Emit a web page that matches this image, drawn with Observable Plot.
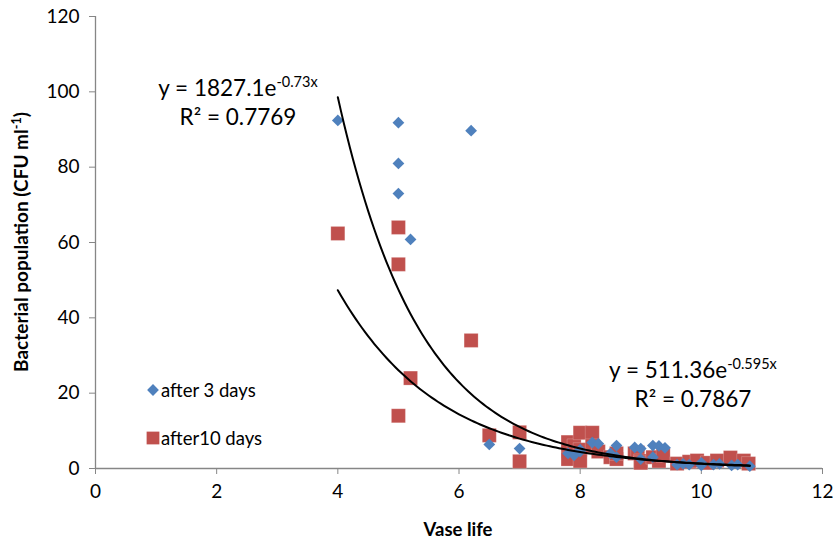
<!DOCTYPE html>
<html><head><meta charset="utf-8">
<script src="https://cdn.jsdelivr.net/npm/d3@7"></script>
<script src="https://cdn.jsdelivr.net/npm/@observablehq/plot@0.6"></script>
<style>body{margin:0;background:#fff} #chart svg{font-family:Lato,"Open Sans",sans-serif;}</style>
</head><body><div id="chart"></div>
<script>
// after 3 days
const day3X = [4, 5, 5, 5, 5.2, 6.2, 6.5, 7, 7.8, 7.9, 8, 8, 8.2, 8.3, 8.5, 8.6, 8.6, 8.9, 9, 9, 9.2, 9.2, 9.3, 9.4, 9.6, 9.7, 9.8, 10, 10, 10.2, 10.3, 10.5, 10.6, 10.8];
const day3Y = [92.4, 91.8, 81, 73, 60.8, 89.7, 6.4, 5.3, 4, 3.5, 5, 4.5, 6.9, 6.6, 4, 6.1, 3, 5.6, 5.3, 2.5, 6.1, 3, 6, 5.5, 1, 1.2, 1, 1.5, 0.8, 1, 1.2, 0.8, 1, 0.6];
// after 10 days
const day10X = [4, 5, 5, 5, 5.2, 6.2, 6.5, 7, 7, 7.8, 7.8, 7.8, 7.9, 8, 8, 8, 8.2, 8.2, 8.3, 8.5, 8.6, 8.6, 8.9, 8.95, 9, 9, 9.2, 9.3, 9.37, 9.6, 9.8, 9.93, 10.1, 10.26, 10.48, 10.7, 10.78];
const day10Y = [62.4, 64, 54.2, 14, 24, 34, 8.8, 9.6, 1.9, 7, 4.5, 2.5, 6, 9.5, 5, 2, 9.5, 6, 4.5, 3, 2.5, 4, 4, 4.2, 2, 1.5, 3, 2, 3.5, 1.3, 1.8, 2.1, 1.5, 2.1, 2.9, 2.1, 1.3];
const seriesNames = ["after 3 days", "after10 days"];
const xTicks = [0, 2, 4, 6, 8, 10, 12];
const yTicks = [0, 20, 40, 60, 80, 100, 120];
// exponential trendlines shown on the chart: y = a * e^(b x)
const fitA = [1827.1, 511.36];
const fitB = [-0.73, -0.595];
const fitAText = ["1827.1", "511.36"];
const fitBText = ["-0.73x", "-0.595x"];
const fitR2 = ["0.7769", "0.7867"];
const fitRange = [4, 10.8];
const labelX = [2.36, 9.87];
const labelY = [98.8, 23.9];

const pts3 = day3X.map((x, i) => ({x, y: day3Y[i]}));
const pts10 = day10X.map((x, i) => ({x, y: day10Y[i]}));
const xs = d3.range(fitRange[0], fitRange[1] + 1e-9, 0.05);
const curves = fitA.map((a, k) => xs.map(x => ({x, y: a * Math.exp(fitB[k] * x), k})));

const blue = "#4F81BD", red = "#C0504D", grid = "#868686";

const chart = Plot.plot({
  width: 833, height: 542,
  marginLeft: 95, marginRight: 11, marginTop: 16, marginBottom: 74,
  style: {fontSize: "19px", color: "#000", background: "#fff"},
  x: {domain: [0, 12], label: null},
  y: {domain: [0, 120], label: null},
  marks: [
    Plot.axisX({ticks: xTicks, tickSize: 6, tickPadding: 10, stroke: grid, label: null, fontSize: 19}),
    Plot.axisY({ticks: yTicks, tickSize: 6, tickPadding: 10, stroke: grid, label: null, fontSize: 19}),
    Plot.ruleY([0], {stroke: grid, strokeWidth: 1.3}),
    Plot.ruleX([0], {stroke: grid, strokeWidth: 1.3}),
    Plot.dot(pts10, {x: "x", y: "y", symbol: "square", r: 7.9, fill: red, stroke: "#fff", strokeOpacity: 0.35, strokeWidth: 0.6}),
    Plot.dot(pts3, {x: "x", y: "y", symbol: "diamond2", r: 5.3, fill: blue}),
    Plot.line(curves[0], {x: "x", y: "y", stroke: "#000", strokeWidth: 2}),
    Plot.line(curves[1], {x: "x", y: "y", stroke: "#000", strokeWidth: 2})
  ]
});
document.getElementById("chart").append(chart);

const svg = d3.select(chart);
const sx = chart.scale("x"), sy = chart.scale("y");
// equations
for (let k = 0; k < 2; k++) {
  const cx = sx.apply(labelX[k]), cy = sy.apply(labelY[k]);
  const t = svg.append("text").attr("x", cx).attr("y", cy).attr("text-anchor", "middle")
    .attr("font-size", 22.5).attr("fill", "#000");
  t.append("tspan").text("y = " + fitAText[k] + "e");
  t.append("tspan").attr("font-size", 14.5).attr("dy", -9).text(fitBText[k]);
  svg.append("text").attr("x", cx).attr("y", cy + 29).attr("text-anchor", "middle")
    .attr("font-size", 22.5).attr("fill", "#000").text("R² = " + fitR2[k]);
}
// legend
const leg = svg.append("g").attr("text-anchor", "start");
leg.append("path").attr("d", d3.symbol(d3.symbolDiamond2, 5.3 * 5.3 * Math.PI)()).attr("transform", "translate(153,390)").attr("fill", blue);
leg.append("text").attr("x", 161).attr("y", 397).attr("font-size", 18.5).text(seriesNames[0]);
leg.append("path").attr("d", d3.symbol(d3.symbolSquare, 7.2 * 7.2 * Math.PI)()).attr("transform", "translate(153,438)").attr("fill", red);
leg.append("text").attr("x", 161).attr("y", 445).attr("font-size", 18.5).text(seriesNames[1]);
// axis titles
svg.append("text").attr("x", 458).attr("y", 536).attr("text-anchor", "middle").attr("font-weight", "bold").attr("font-size", 18.5).text("Vase life");
const yt = svg.append("text").attr("transform", "translate(28,242) rotate(-90)").attr("text-anchor", "middle").attr("font-weight", "bold").attr("font-size", 19);
yt.append("tspan").text("Bacterial population (CFU ml");
yt.append("tspan").attr("font-size", 12.5).attr("dy", -7).text("-1");
yt.append("tspan").attr("dy", 7).text(")");
</script>
</body></html>
